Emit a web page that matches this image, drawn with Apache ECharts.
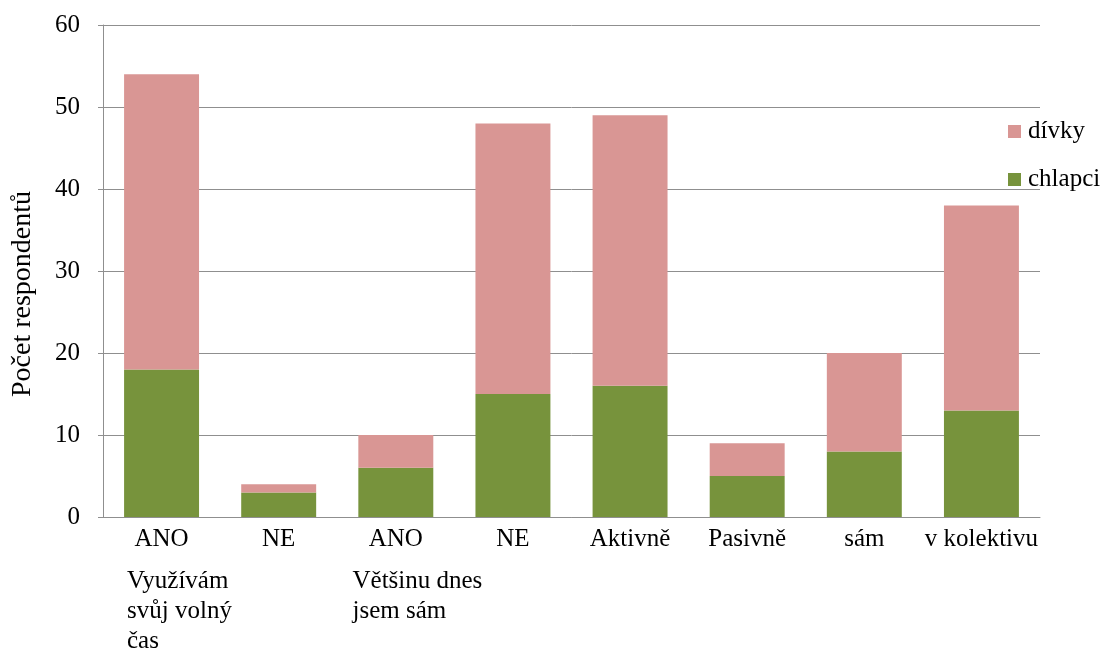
<!DOCTYPE html>
<html>
<head>
<meta charset="utf-8">
<script src="https://cdn.jsdelivr.net/npm/echarts@6/dist/echarts.min.js"></script>
<style>
  html, body { margin: 0; padding: 0; background: #fff; }
  #chart { width: 1106px; height: 650px; }
</style>
</head>
<body>
<div id="chart"></div>
<script>
// Survey answers, stacked by gender
const categories = ['ANO', 'NE', 'ANO', 'NE', 'Aktivně', 'Pasivně', 'sám', 'v kolektivu'];
const chlapci = [18, 3, 6, 15, 16, 5, 8, 13];
const divky = [36, 1, 4, 33, 33, 4, 12, 25];
const yTicks = [0, 10, 20, 30, 40, 50, 60];

// Question captions shown under their answer groups
const groupLabels = ['Využívám\nsvůj volný\nčas', 'Většinu dnes\njsem sám'];
// where each caption starts, in category units along the x axis
const groupLabelAt = [0.205, 2.13];

const FONT = '"Liberation Serif", "Times New Roman", serif';
const FS = 25;
const GRID_GRAY = '#8f8f8f';

const chart = echarts.init(document.getElementById('chart'), null, { renderer: 'canvas' });

chart.setOption({
  animation: false,
  textStyle: { fontFamily: FONT, color: '#000' },
  grid: {
    left: 103, right: 66, top: 25, bottom: 133,
    containLabel: false,
    outerBoundsMode: 'none'
  },
  legend: {
    orient: 'vertical',
    left: 1003,
    top: 114,
    itemWidth: 13,
    itemHeight: 13,
    itemGap: 23,
    icon: 'rect',
    data: ['dívky', 'chlapci'],
    textStyle: { fontFamily: FONT, fontSize: FS, color: '#000', padding: [0, 0, 0, 2] }
  },
  xAxis: [
    {
      type: 'category',
      data: categories,
      boundaryGap: true,
      axisLine: { show: true, lineStyle: { color: GRID_GRAY, width: 1 } },
      axisTick: { show: false },
      axisLabel: { fontFamily: FONT, fontSize: FS, color: '#000', margin: 10, interval: 0 }
    },
    {
      type: 'value',
      position: 'bottom',
      min: 0,
      max: categories.length,
      axisLine: { show: false },
      axisTick: { show: false },
      splitLine: { show: false },
      axisLabel: {
        customValues: groupLabelAt,
        showMinLabel: true,
        showMaxLabel: true,
        align: 'left',
        verticalAlign: 'top',
        margin: 49,
        lineHeight: 30,
        fontFamily: FONT,
        fontSize: FS,
        color: '#000',
        formatter: function (v) {
          let best = 0;
          for (let i = 1; i < groupLabelAt.length; i++) {
            if (Math.abs(groupLabelAt[i] - v) < Math.abs(groupLabelAt[best] - v)) best = i;
          }
          return groupLabels[best];
        }
      }
    }
  ],
  yAxis: {
    type: 'value',
    min: yTicks[0],
    max: yTicks[yTicks.length - 1],
    interval: 10,
    name: 'Počet respondentů',
    nameLocation: 'middle',
    nameGap: 66,
    nameTextStyle: { fontFamily: FONT, fontSize: 28, color: '#000', padding: [0, 46, 0, 0] },
    axisLine: { show: true, lineStyle: { color: GRID_GRAY, width: 1 } },
    axisTick: { show: true, inside: false, length: 5, lineStyle: { color: GRID_GRAY } },
    splitLine: { show: true, lineStyle: { color: GRID_GRAY, width: 1 } },
    axisLabel: { fontFamily: FONT, fontSize: FS, color: '#000', margin: 23 }
  },
  series: [
    {
      name: 'chlapci',
      type: 'bar',
      stack: 'total',
      xAxisIndex: 0,
      barWidth: '64%',
      itemStyle: { color: '#77933C' },
      data: chlapci
    },
    {
      name: 'dívky',
      type: 'bar',
      stack: 'total',
      xAxisIndex: 0,
      barWidth: '64%',
      itemStyle: { color: '#D99694' },
      data: divky
    }
  ]
});
</script>
</body>
</html>
